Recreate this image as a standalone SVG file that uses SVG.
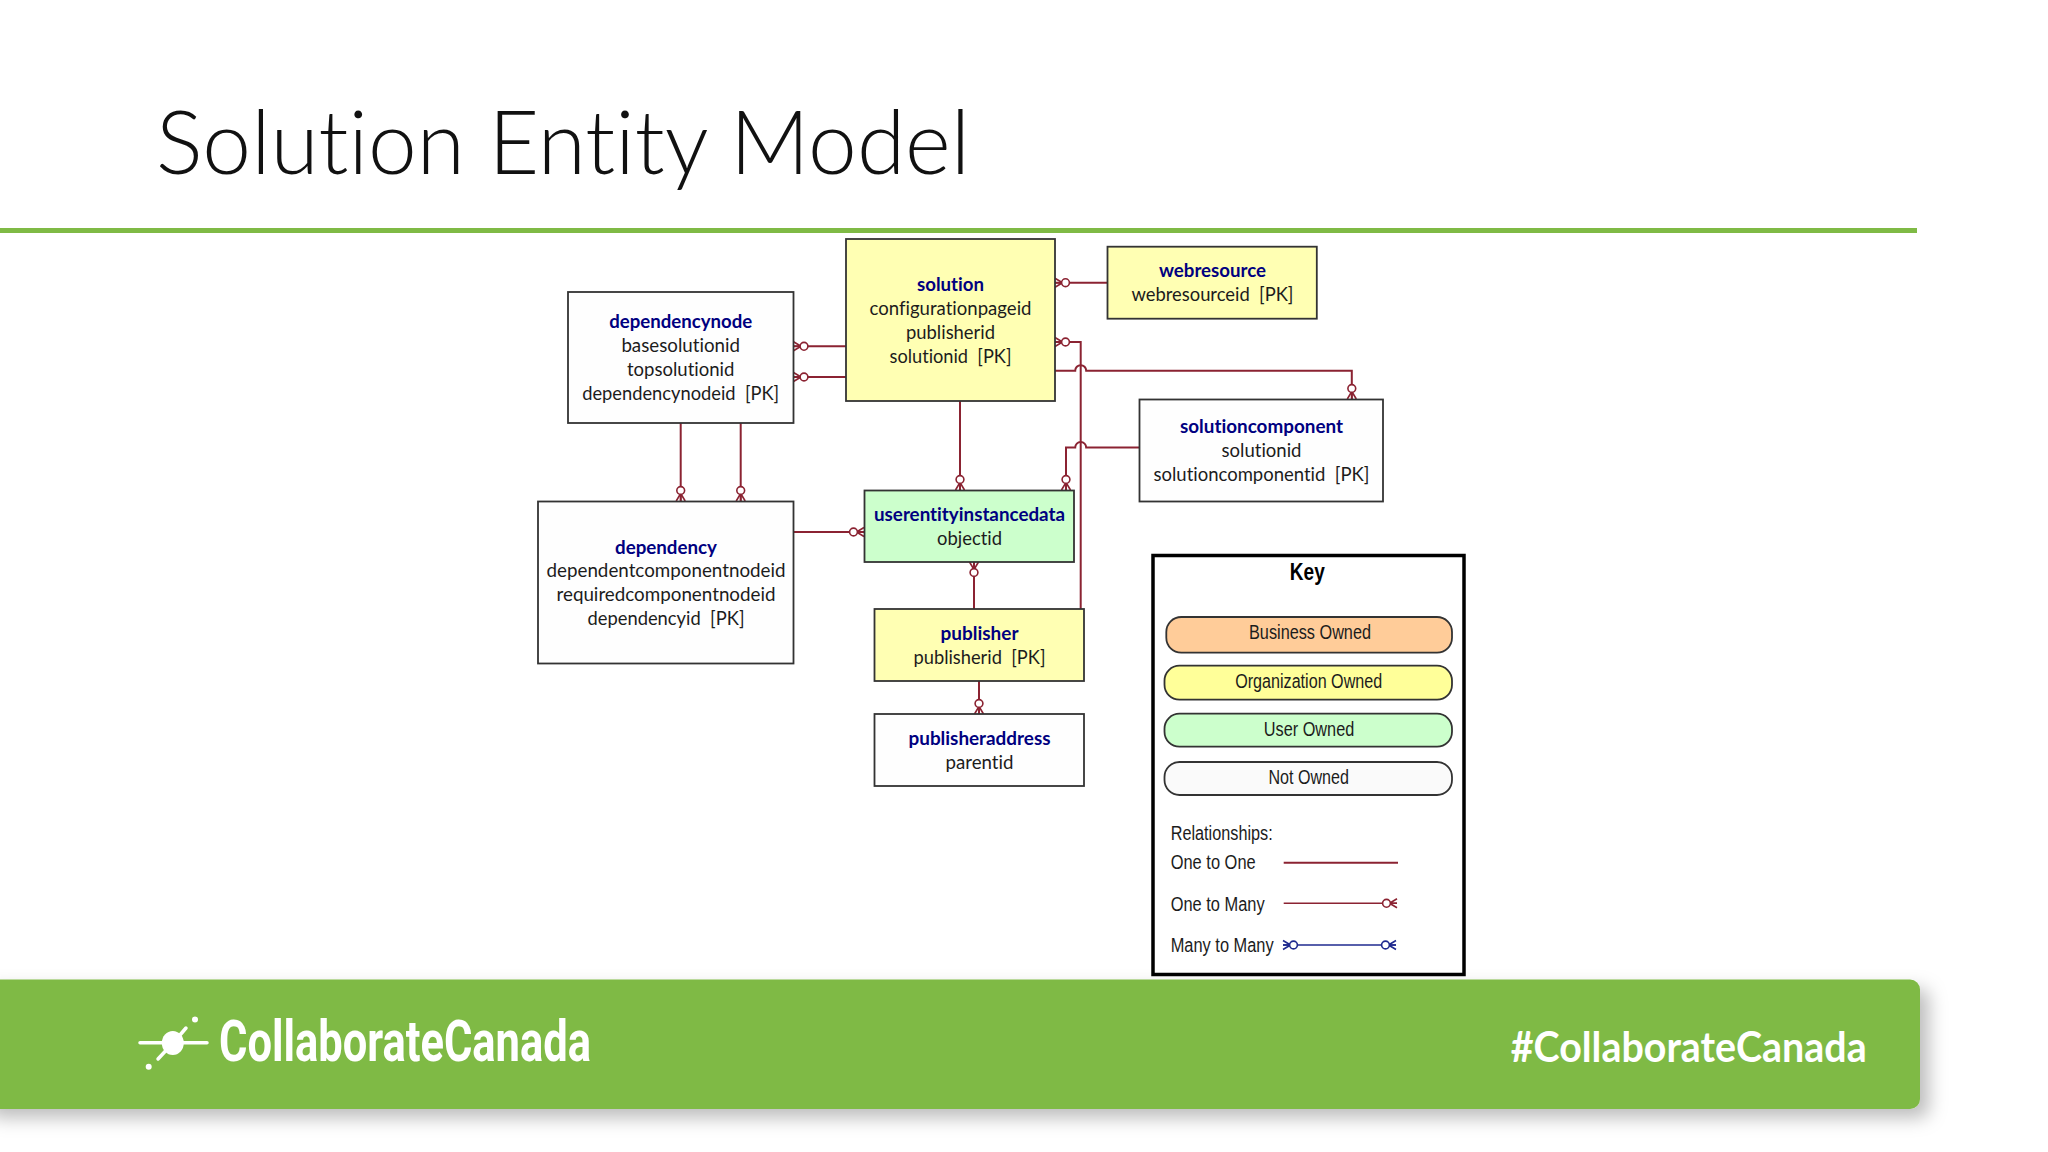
<svg xmlns="http://www.w3.org/2000/svg" width="2048" height="1152" viewBox="0 0 2048 1152">
<style>
.n{stroke:#333;stroke-width:1.8}
.w{fill:#fefefe}.y{fill:#ffffb3}.g{fill:#ccffcc}
text{font-family:"Lato","Liberation Sans",sans-serif;font-size:19.5px;fill:#1c1c1c;text-anchor:middle;white-space:pre;font-variant-ligatures:none}
.h{font-weight:700;fill:#000080}
.c{fill:none;stroke:#8b2332;stroke-width:2}
.k text{font-family:"Liberation Sans",Arial,sans-serif;font-size:19.5px}
.k .l{text-anchor:start}
.p{stroke:#333;stroke-width:1.8}
</style>
<defs>
<marker id="crow" markerUnits="userSpaceOnUse" markerWidth="18" markerHeight="14" refX="16" refY="7" orient="auto">
<path d="M8.5 7L16 2.5M8.5 7L16 11.5M8.5 7H16" fill="none" stroke="#8b2332" stroke-width="1.6"/>
<circle cx="5.5" cy="7" r="3.9" fill="#fff" stroke="#8b2332" stroke-width="1.6"/>
</marker>
<marker id="crowb" markerUnits="userSpaceOnUse" markerWidth="18" markerHeight="14" refX="16" refY="7" orient="auto">
<path d="M8.5 7L16 2.5M8.5 7L16 11.5M8.5 7H16" fill="none" stroke="#1f2a8f" stroke-width="1.6"/>
<circle cx="5.5" cy="7" r="3.9" fill="#fff" stroke="#1f2a8f" stroke-width="1.6"/>
</marker>
<filter id="sh" x="-5%" y="-30%" width="110%" height="170%">
<feDropShadow dx="9" dy="9" stdDeviation="9" flood-color="#000" flood-opacity="0.26"/>
</filter>
</defs>
<rect width="2048" height="1152" fill="#fff"/>
<g id="slide-title">
<text x="156" y="174" style="text-anchor:start;font-weight:300;font-size:88px;fill:#111" textLength="814" lengthAdjust="spacingAndGlyphs">Solution Entity Model</text>
<rect x="0" y="228" width="1917" height="5" fill="#7fba45"/>
</g>
<g id="connectors">
<path class="c" d="M846 346.3H793.5" marker-end="url(#crow)"/>
<path class="c" d="M846 377H793.5" marker-end="url(#crow)"/>
<path class="c" d="M680.7 423V501" marker-end="url(#crow)"/>
<path class="c" d="M740.7 423V501" marker-end="url(#crow)"/>
<path class="c" d="M960 401V490" marker-end="url(#crow)"/>
<path class="c" d="M793.5 532H864" marker-end="url(#crow)"/>
<path class="c" d="M974 609V562" marker-end="url(#crow)"/>
<path class="c" d="M979 681V714" marker-end="url(#crow)"/>
<path class="c" d="M1107.5 282.7H1055" marker-end="url(#crow)"/>
<path class="c" d="M1080.7 609V342H1055" marker-end="url(#crow)"/>
<path class="c" d="M1055 370.7H1075.2A5.5 5.5 0 0 1 1086.2 370.7H1351.8V399" marker-end="url(#crow)"/>
<path class="c" d="M1139 447.5H1086.2A5.5 5.5 0 0 0 1075.2 447.5H1066V490" marker-end="url(#crow)"/>
</g>
<g id="dependencynode">
<rect class="n w" x="568" y="292" width="225.5" height="131"/>
<text class="h" x="680.7" y="328" textLength="143" lengthAdjust="spacingAndGlyphs">dependencynode</text>
<text x="680.7" y="351.5" textLength="118.6" lengthAdjust="spacingAndGlyphs">basesolutionid</text>
<text x="680.7" y="375.5" textLength="107.5" lengthAdjust="spacingAndGlyphs">topsolutionid</text>
<text x="680.7" y="399.5" textLength="197" lengthAdjust="spacingAndGlyphs">dependencynodeid  [PK]</text>
</g>
<g id="solution">
<rect class="n y" x="846" y="239" width="209" height="162"/>
<text class="h" x="950.5" y="290.5" textLength="67" lengthAdjust="spacingAndGlyphs">solution</text>
<text x="950.5" y="314.5" textLength="162" lengthAdjust="spacingAndGlyphs">configurationpageid</text>
<text x="950.5" y="338.5" textLength="89" lengthAdjust="spacingAndGlyphs">publisherid</text>
<text x="950.5" y="362.5" textLength="122" lengthAdjust="spacingAndGlyphs">solutionid  [PK]</text>
</g>
<g id="webresource">
<rect class="n y" x="1107.5" y="246.7" width="209.3" height="72"/>
<text class="h" x="1212.5" y="276.7" textLength="107" lengthAdjust="spacingAndGlyphs">webresource</text>
<text x="1212.5" y="300.7" textLength="162" lengthAdjust="spacingAndGlyphs">webresourceid  [PK]</text>
</g>
<g id="solutioncomponent">
<rect class="n w" x="1139.5" y="399.5" width="243.5" height="102"/>
<text class="h" x="1261.5" y="432.7" textLength="163" lengthAdjust="spacingAndGlyphs">solutioncomponent</text>
<text x="1261.5" y="456.7" textLength="80" lengthAdjust="spacingAndGlyphs">solutionid</text>
<text x="1261.5" y="480.7" textLength="216" lengthAdjust="spacingAndGlyphs">solutioncomponentid  [PK]</text>
</g>
<g id="dependency">
<rect class="n w" x="538" y="501.5" width="255.5" height="162"/>
<text class="h" x="666" y="553.7" textLength="102" lengthAdjust="spacingAndGlyphs">dependency</text>
<text x="666" y="577.3" textLength="239" lengthAdjust="spacingAndGlyphs">dependentcomponentnodeid</text>
<text x="666" y="601.3" textLength="219" lengthAdjust="spacingAndGlyphs">requiredcomponentnodeid</text>
<text x="666" y="625.3" textLength="157" lengthAdjust="spacingAndGlyphs">dependencyid  [PK]</text>
</g>
<g id="userentityinstancedata">
<rect class="n g" x="864.5" y="490.5" width="209.5" height="71.5"/>
<text class="h" x="969.5" y="520.7" textLength="191" lengthAdjust="spacingAndGlyphs">userentityinstancedata</text>
<text x="969.5" y="544.8" textLength="65" lengthAdjust="spacingAndGlyphs">objectid</text>
</g>
<g id="publisher">
<rect class="n y" x="874.5" y="609" width="209.5" height="72"/>
<text class="h" x="979.5" y="640" textLength="78" lengthAdjust="spacingAndGlyphs">publisher</text>
<text x="979.5" y="663.8" textLength="132" lengthAdjust="spacingAndGlyphs">publisherid  [PK]</text>
</g>
<g id="publisheraddress">
<rect class="n w" x="874.5" y="714" width="209.5" height="72"/>
<text class="h" x="979.5" y="745" textLength="142" lengthAdjust="spacingAndGlyphs">publisheraddress</text>
<text x="979.5" y="768.7" textLength="68" lengthAdjust="spacingAndGlyphs">parentid</text>
</g>
<g id="key" class="k">
<rect x="1153" y="555.5" width="311" height="419" fill="#fff" stroke="#000" stroke-width="3.5"/>
<text x="1307.3" y="580" style="font-weight:700;font-size:23px;fill:#000" textLength="35" lengthAdjust="spacingAndGlyphs">Key</text>
<rect class="p" x="1166.3" y="617" width="285.7" height="35.7" rx="15" fill="#ffcc99"/>
<text x="1310" y="639" textLength="122" lengthAdjust="spacingAndGlyphs">Business Owned</text>
<rect class="p" x="1164.5" y="665.7" width="287.5" height="34" rx="15" fill="#ffff99"/>
<text x="1308.7" y="687.7" textLength="147" lengthAdjust="spacingAndGlyphs">Organization Owned</text>
<rect class="p" x="1164.5" y="713.7" width="287.5" height="33" rx="15" fill="#ccffcc"/>
<text x="1309" y="736" textLength="90.5" lengthAdjust="spacingAndGlyphs">User Owned</text>
<rect class="p" x="1164.5" y="762" width="287.5" height="33" rx="15" fill="#fafafa"/>
<text x="1308.7" y="784.3" textLength="80.5" lengthAdjust="spacingAndGlyphs">Not Owned</text>
<text class="l" x="1170.7" y="840" textLength="102" lengthAdjust="spacingAndGlyphs">Relationships:</text>
<text class="l" x="1170.7" y="869.3" textLength="85" lengthAdjust="spacingAndGlyphs">One to One</text>
<text class="l" x="1170.7" y="910.7" textLength="94" lengthAdjust="spacingAndGlyphs">One to Many</text>
<text class="l" x="1170.7" y="951.7" textLength="103" lengthAdjust="spacingAndGlyphs">Many to Many</text>
<path class="c" d="M1283.7 862.7H1398"/>
<path class="c" d="M1283.7 903.3H1397" marker-end="url(#crow)" style="stroke-width:1.6"/>
<path d="M1290 945H1396" fill="none" stroke="#1f2a8f" stroke-width="1.6" marker-end="url(#crowb)"/>
<path d="M1296 945H1283" fill="none" stroke="#1f2a8f" stroke-width="1.6" marker-end="url(#crowb)"/>
</g>
<g id="footer">
<rect x="-20" y="979.5" width="1940" height="129.5" rx="10" fill="#7fba45" filter="url(#sh)"/>
<g id="logo-mark">
<path d="M140 1042.7H207M186 1028L174 1042M172 1044L158 1059" fill="none" stroke="#fff" stroke-width="3.5" stroke-linecap="round"/>
<ellipse cx="172.8" cy="1043" rx="11" ry="12" fill="#fff"/>
<circle cx="195" cy="1019.5" r="3" fill="#fff"/>
<circle cx="148.7" cy="1066.7" r="3" fill="#fff"/>
</g>
<text x="219" y="1061" style="text-anchor:start;font-family:Roboto,sans-serif;font-weight:700;font-size:58px;fill:#fff" textLength="372" lengthAdjust="spacingAndGlyphs">CollaborateCanada</text>
<text x="1510.7" y="1061.5" style="text-anchor:start;font-family:Lato,sans-serif;font-weight:700;font-size:42px;fill:#fff" textLength="356" lengthAdjust="spacingAndGlyphs">#CollaborateCanada</text>
</g>
</svg>
